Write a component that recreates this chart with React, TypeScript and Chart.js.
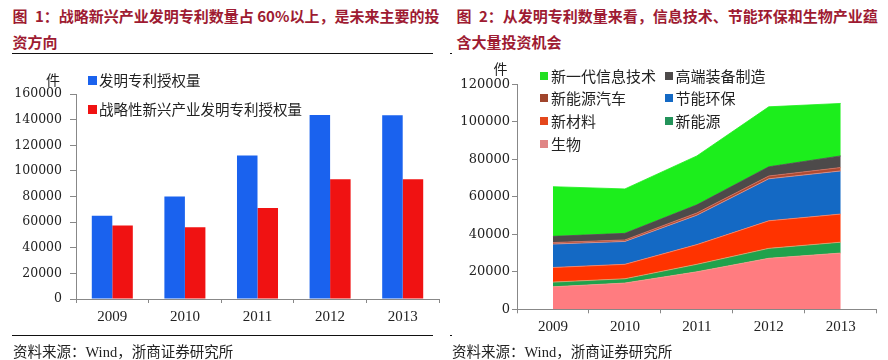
import React, { useEffect, useRef } from "react";
import { Chart, registerables } from "chart.js";

Chart.register(...registerables);

// ---------- data ----------
const years = ["2009", "2010", "2011", "2012", "2013"];

const barSeriesLabels = ["发明专利授权量", "战略性新兴产业发明专利授权量"];
const inventionGrants = [65000, 80000, 112000, 143600, 143400];
const strategicGrants = [57400, 56000, 71000, 93500, 93500];
const leftYMax = 160000;
const leftYStep = 20000;

// stacked bottom -> top
const areaSeriesLabels = ["生物", "新能源", "新材料", "节能环保", "新能源汽车", "高端装备制造", "新一代信息技术"];
const bio = [12000, 14000, 20000, 27200, 30000];
const newEnergy = [2500, 2300, 4000, 5300, 5800];
const newMaterials = [7800, 7700, 10500, 14700, 15000];
const energySaving = [12500, 12200, 15700, 22400, 23000];
const newEnergyVehicles = [800, 800, 1200, 1500, 1800];
const highEndEquipment = [3300, 3500, 4300, 4900, 6200];
const nextGenIT = [26500, 23700, 26100, 32000, 28000];
const rightYMax = 120000;
const rightYStep = 20000;

const title1Lines = ["图\u20021：战略新兴产业发明专利数量占 60%以上，是未来主要的投", "资方向"];
const title2Lines = ["图\u20022：从发明专利数量来看，信息技术、节能环保和生物产业蕴", "含大量投资机会"];
const sourceText = "资料来源：Wind，浙商证券研究所";
const unitText = "件";

// ---------- styles ----------
const barColors = ["#1a62ee", "#f01212"];
const areaColors = ["#ff7c80", "#1fa24c", "#ff3300", "#1469c4", "#b04a30", "#4d4a4a", "#1cee1c"];
const areaBorders = ["#f59a8a", "#e8a070", "#f08a70", "#e88f80", "#d07060", "#4d4a4a", "#1cee1c"];
const legendSquareColors = ["#e08585", "#23935a", "#e4471c", "#1469c4", "#a0452c", "#4d4a4a", "#22e022"];

const CJK = '"Noto Sans CJK SC", sans-serif';
const SERIF_MIX = '"Liberation Serif", "Noto Sans CJK SC", serif';
const AXIS = "#888888";
const TEXT = "#222222";
const TITLE = "#9e1b32";

export default function App() {
  const leftRef = useRef<HTMLCanvasElement | null>(null);
  const rightRef = useRef<HTMLCanvasElement | null>(null);

  useEffect(() => {
    const left = new Chart(leftRef.current as HTMLCanvasElement, {
      type: "bar",
      data: {
        labels: years,
        datasets: [
          { label: barSeriesLabels[0], data: inventionGrants, backgroundColor: barColors[0], borderWidth: 0, categoryPercentage: 0.565, barPercentage: 1 },
          { label: barSeriesLabels[1], data: strategicGrants, backgroundColor: barColors[1], borderWidth: 0, categoryPercentage: 0.565, barPercentage: 1 },
        ],
      },
      options: {
        responsive: false,
        animation: false,
        layout: { padding: { top: 34, right: 5, bottom: 4, left: 0 } },
        plugins: { legend: { display: false }, tooltip: { enabled: false } },
        scales: {
          x: {
            grid: { drawOnChartArea: false, drawTicks: true, tickLength: 4, color: AXIS, offset: true },
            border: { display: true, color: AXIS },
            ticks: { color: TEXT, padding: 5, font: { family: '"Liberation Serif", serif', size: 15 } },
          },
          y: {
            min: 0,
            max: leftYMax,
            afterFit: (s: any) => { s.width = 76; },
            grid: { drawOnChartArea: false, drawTicks: true, tickLength: 6, color: AXIS },
            border: { display: true, color: AXIS },
            ticks: { stepSize: leftYStep, color: TEXT, padding: 8, font: { family: '"DejaVu Serif", serif', size: 12.5 }, callback: (v: any) => String(v) },
          },
        },
      },
    });

    const series = [bio, newEnergy, newMaterials, energySaving, newEnergyVehicles, highEndEquipment, nextGenIT];
    const right = new Chart(rightRef.current as HTMLCanvasElement, {
      type: "line",
      data: {
        labels: years,
        datasets: series.map((d, i) => ({
          label: areaSeriesLabels[i],
          data: d,
          fill: i === 0 ? "origin" : "-1",
          backgroundColor: areaColors[i],
          borderColor: areaBorders[i],
          borderWidth: 0.8,
          pointRadius: 0,
          tension: 0,
        })),
      },
      options: {
        responsive: false,
        animation: false,
        layout: { padding: { top: 24.3, right: 11.3, bottom: 3.7, left: 0 } },
        plugins: { legend: { display: false }, tooltip: { enabled: false } },
        scales: {
          x: {
            offset: true,
            grid: { drawOnChartArea: false, drawTicks: true, tickLength: 4, color: AXIS, offset: true },
            border: { display: true, color: AXIS },
            ticks: { color: TEXT, padding: 5, font: { family: '"Liberation Serif", serif', size: 15 } },
          },
          y: {
            min: 0,
            max: rightYMax,
            stacked: true,
            afterFit: (s: any) => { s.width = 73; },
            grid: { drawOnChartArea: false, drawTicks: true, tickLength: 5, color: AXIS },
            border: { display: true, color: AXIS },
            ticks: { stepSize: rightYStep, color: TEXT, padding: 2, font: { family: '"DejaVu Serif", serif', size: 13 }, callback: (v: any) => String(v) },
          },
        },
      },
    });

    return () => {
      left.destroy();
      right.destroy();
    };
  }, []);

  const titleStyle = (x: number): React.CSSProperties => ({
    position: "absolute",
    left: x,
    top: 3,
    font: `bold 15px ${CJK}`,
    color: TITLE,
    lineHeight: "26px",
    whiteSpace: "nowrap",
  });

  const rightLegendItems = areaSeriesLabels.map((l, i) => ({ l, i })).reverse();

  return (
    <div style={{ position: "absolute", left: 0, top: 0, width: 888, height: 360, background: "#fff", overflow: "hidden" }}>
      {/* titles */}
      <div style={titleStyle(12.5)}>
        {title1Lines.map((t) => (<div key={t}>{t}</div>))}
      </div>
      <div style={titleStyle(456.5)}>
        {title2Lines.map((t) => (<div key={t}>{t}</div>))}
      </div>
      <div style={{ position: "absolute", left: 12, top: 53, width: 421, height: 1, background: "#111" }} />
      <div style={{ position: "absolute", left: 450, top: 53, width: 2, height: 1, background: "#111" }} />

      <canvas ref={leftRef} width={444} height={275} style={{ position: "absolute", left: 0, top: 60 }} />
      <canvas ref={rightRef} width={444} height={285} style={{ position: "absolute", left: 444, top: 60 }} />

      {/* unit labels */}
      <div style={{ position: "absolute", left: 46, top: 70, font: `14px ${CJK}`, color: TEXT, lineHeight: "18px" }}>{unitText}</div>
      <div style={{ position: "absolute", left: 493.5, top: 59, font: `14px ${CJK}`, color: TEXT, lineHeight: "18px" }}>{unitText}</div>

      {/* left legend */}
      {barSeriesLabels.map((l, i) => (
        <div key={l} style={{ position: "absolute", left: 88, top: 80 + i * 29.3 - 9, height: 18, display: "flex", alignItems: "center", whiteSpace: "nowrap" }}>
          <span style={{ display: "inline-block", width: 9, height: 9, background: barColors[i], marginRight: 2 }} />
          <span style={{ font: `14.5px ${CJK}`, color: TEXT, lineHeight: "18px" }}>{l}</span>
        </div>
      ))}

      {/* right legend */}
      {rightLegendItems.map(({ l, i }, k) => (
        <div key={l} style={{ position: "absolute", left: k % 2 === 0 ? 540 : 664.5, top: 75.7 + Math.floor(k / 2) * 22.6 - 9, height: 18, display: "flex", alignItems: "center", whiteSpace: "nowrap" }}>
          <span style={{ display: "inline-block", width: 8, height: 8, background: legendSquareColors[i], marginRight: 3 }} />
          <span style={{ font: `15px ${CJK}`, color: TEXT, lineHeight: "18px" }}>{l}</span>
        </div>
      ))}

      {/* bottom rule + sources */}
      <div style={{ position: "absolute", left: 12, top: 335, width: 421, height: 1, background: "#111" }} />
      <div style={{ position: "absolute", left: 450, top: 335, width: 2, height: 1, background: "#111" }} />
      <div style={{ position: "absolute", left: 13, top: 343, font: `14.5px ${SERIF_MIX}`, color: TEXT, lineHeight: "18px", whiteSpace: "nowrap" }}>{sourceText}</div>
      <div style={{ position: "absolute", left: 452, top: 343, font: `14.5px ${SERIF_MIX}`, color: TEXT, lineHeight: "18px", whiteSpace: "nowrap" }}>{sourceText}</div>
    </div>
  );
}
